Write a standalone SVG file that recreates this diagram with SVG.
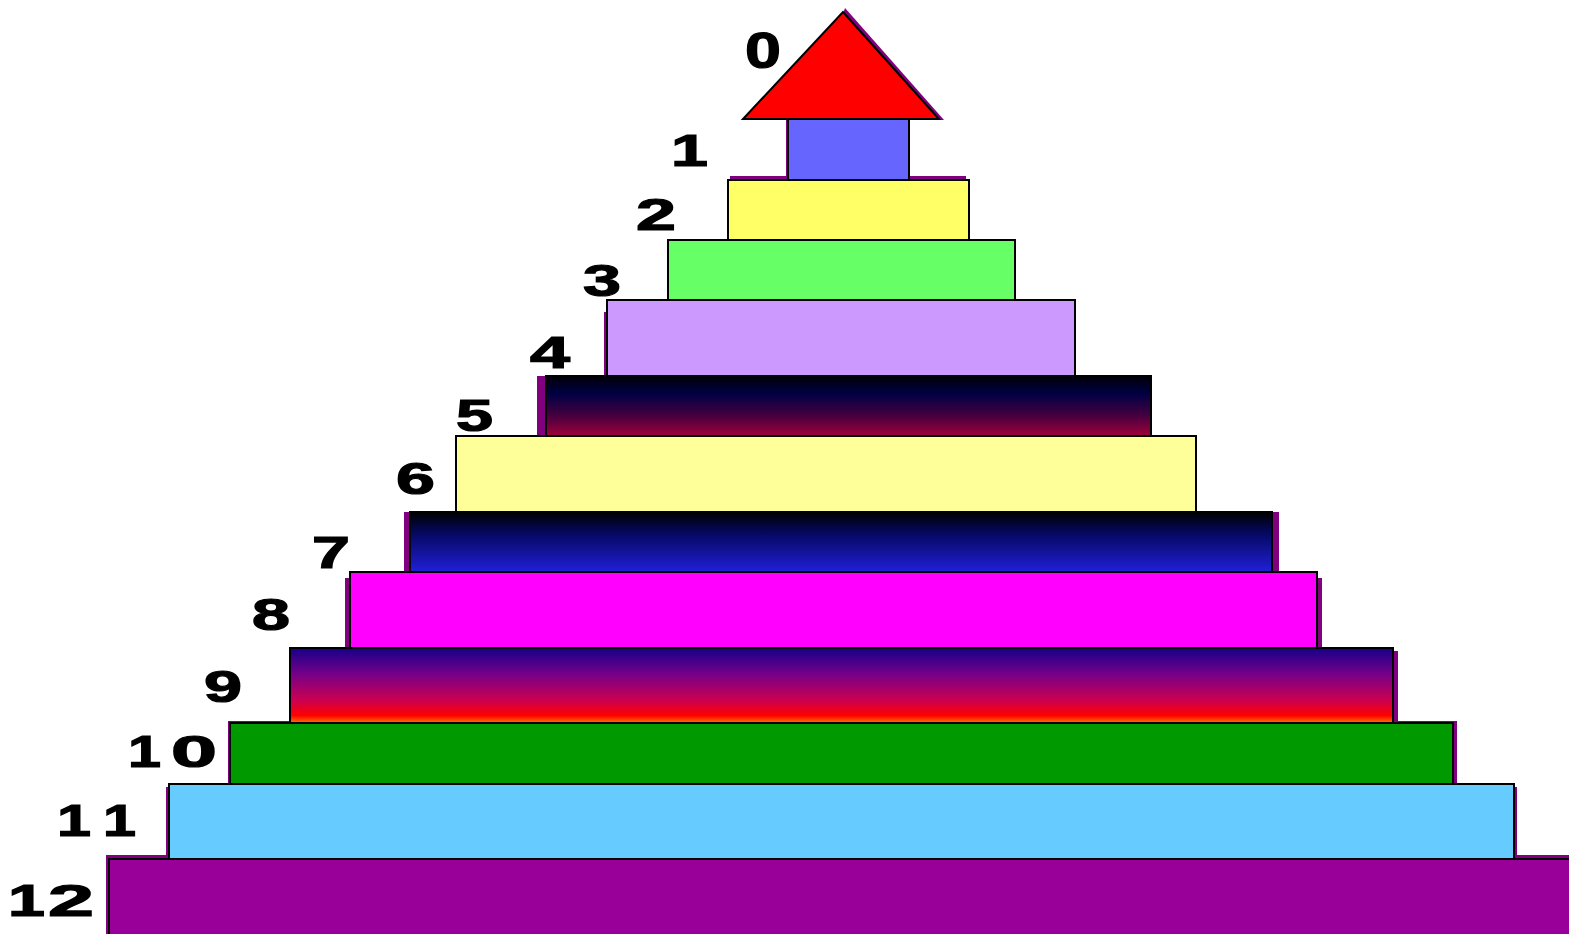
<svg xmlns="http://www.w3.org/2000/svg" width="1569" height="934" viewBox="0 0 1569 934">
<style>
.s{fill:#800080}
.b{stroke:#000;stroke-width:2}
.t{font-family:"Liberation Sans",Arial,sans-serif;font-weight:bold;font-size:44px;fill:#000;stroke:#000;stroke-width:1.2}
</style>
<defs>
<linearGradient id="g5" x1="0" y1="0" x2="0" y2="1">
<stop offset="0" stop-color="#000008"/><stop offset="0.3" stop-color="#000044"/><stop offset="0.65" stop-color="#44003f"/><stop offset="1" stop-color="#a0003a"/>
</linearGradient>
<linearGradient id="g7" x1="0" y1="0" x2="0" y2="1">
<stop offset="0" stop-color="#000000"/><stop offset="0.35" stop-color="#050860"/><stop offset="1" stop-color="#2020d8"/>
</linearGradient>
<linearGradient id="g9" x1="0" y1="0" x2="0" y2="1">
<stop offset="0" stop-color="#160088"/><stop offset="0.35" stop-color="#770088"/><stop offset="0.7" stop-color="#cc0050"/><stop offset="0.9" stop-color="#ff0000"/><stop offset="1" stop-color="#ff7700"/>
</linearGradient>
</defs>
<g id="shadows">
<polygon class="s" points="845,8 944,120 936,120 843,14"/>
<rect class="s" x="786" y="119" width="4" height="60"/>
<rect class="s" x="730" y="176" width="236" height="6"/>
<rect class="s" x="604" y="312" width="5" height="64"/>
<rect class="s" x="537" y="376" width="10" height="60"/>
<rect class="s" x="404" y="512" width="875" height="60"/>
<rect class="s" x="345" y="578" width="977" height="70"/>
<rect class="s" x="290" y="651" width="1108" height="72"/>
<rect class="s" x="228" y="721" width="1229" height="63"/>
<rect class="s" x="166" y="787" width="1351" height="72"/>
<rect class="s" x="106" y="855" width="1463" height="79"/>
</g>
<g id="n12"><rect class="b" x="109" y="859" width="1470" height="80" fill="#990099"/><text class="t" y="916"><tspan x="8" textLength="37" lengthAdjust="spacingAndGlyphs">1</tspan><tspan x="48" textLength="46" lengthAdjust="spacingAndGlyphs">2</tspan></text></g>
<g id="n11"><rect class="b" x="169" y="784" width="1345" height="75" fill="#66CCFF"/><text class="t" y="836"><tspan x="57" textLength="34" lengthAdjust="spacingAndGlyphs">1</tspan><tspan x="103" textLength="33" lengthAdjust="spacingAndGlyphs">1</tspan></text></g>
<g id="n10"><rect class="b" x="230" y="723" width="1223" height="61" fill="#009900"/><text class="t" y="767"><tspan x="128" textLength="33" lengthAdjust="spacingAndGlyphs">1</tspan><tspan x="171" textLength="46" lengthAdjust="spacingAndGlyphs">0</tspan></text></g>
<g id="n9"><rect class="b" x="290" y="648" width="1103" height="75" fill="url(#g9)"/><text class="t" x="204" y="702" textLength="38" lengthAdjust="spacingAndGlyphs">9</text></g>
<g id="n8"><rect class="b" x="350" y="572" width="967" height="76" fill="#FF00FF"/><text class="t" x="252" y="630" textLength="38" lengthAdjust="spacingAndGlyphs">8</text></g>
<g id="n7"><rect class="b" x="410" y="512" width="862" height="60" fill="url(#g7)"/><text class="t" x="312" y="568" textLength="38" lengthAdjust="spacingAndGlyphs">7</text></g>
<g id="n6"><rect class="b" x="456" y="436" width="740" height="76" fill="#FFFF99"/><text class="t" x="396" y="494" textLength="39" lengthAdjust="spacingAndGlyphs">6</text></g>
<g id="n5"><rect class="b" x="546" y="376" width="605" height="60" fill="url(#g5)"/><text class="t" x="456" y="431" textLength="37" lengthAdjust="spacingAndGlyphs">5</text></g>
<g id="n4"><rect class="b" x="607" y="300" width="468" height="76" fill="#CC99FF"/><text class="t" x="530" y="368" textLength="40" lengthAdjust="spacingAndGlyphs">4</text></g>
<g id="n3"><rect class="b" x="668" y="240" width="347" height="60" fill="#66FF66"/><text class="t" x="583" y="296" textLength="38" lengthAdjust="spacingAndGlyphs">3</text></g>
<g id="n2"><rect class="b" x="728" y="180" width="241" height="60" fill="#FFFF66"/><text class="t" x="636" y="230" textLength="40" lengthAdjust="spacingAndGlyphs">2</text></g>
<g id="n1"><rect class="b" x="788" y="119" width="121" height="61" fill="#6666FF"/><text class="t" x="671" y="166" textLength="37" lengthAdjust="spacingAndGlyphs">1</text></g>
<g id="n0"><polygon class="b" points="843,12 939,119 743,119" fill="#FF0000"/><text class="t" x="745" y="68" style="font-size:50px" textLength="36" lengthAdjust="spacingAndGlyphs">0</text></g>
</svg>
